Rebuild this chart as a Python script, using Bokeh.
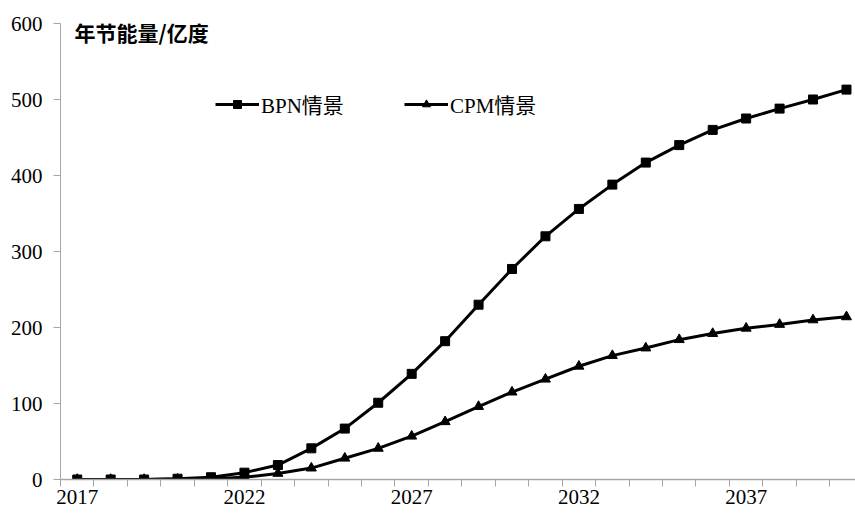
from bokeh.plotting import figure
from bokeh.models import Range1d, FixedTicker, Legend, LegendItem, Label
from bokeh.embed import file_html
from bokeh.resources import INLINE

years = list(range(2017, 2041))
bpn = [0, 0, 0, 1, 3, 9, 19, 41, 67, 101, 139, 182, 230, 277, 320, 356,
       388, 417, 440, 460, 475, 488, 500, 513]
cpm = [0, 0, 0, 0.5, 1, 3, 8, 15, 28, 41, 57, 76, 96, 115, 132, 149,
       163, 173, 184, 192, 199, 204, 210, 214]
x_label_years = [2017, 2022, 2027, 2032, 2037]
y_ticks = [0, 100, 200, 300, 400, 500, 600]
y_title = "年节能量/亿度"
bpn_name = "BPN情景"
cpm_name = "CPM情景"

MIX = "Liberation Serif, Noto Sans CJK SC"
AX = "#a6a6a6"
X0 = 2016.5

p = figure(width=855, height=513, output_backend="svg", toolbar_location=None,
           x_range=Range1d(X0, 2040.27), y_range=Range1d(0, 600),
           min_border_left=60, min_border_right=0, min_border_top=23,
           min_border_bottom=34)
p.outline_line_color = None
p.xgrid.visible = False
p.ygrid.visible = False
p.background_fill_color = "white"
p.border_fill_color = "white"

# x axis
xa = p.xaxis[0]
xa.ticker = FixedTicker(ticks=x_label_years,
                        minor_ticks=[y - 0.5 for y in years] + [years[-1] + 0.5])
xa.major_tick_out = 0
xa.major_tick_in = 0
xa.minor_tick_out = 7
xa.minor_tick_in = 0
xa.axis_line_color = AX
xa.minor_tick_line_color = AX
xa.axis_line_width = 1.5
xa.major_label_text_font = MIX
xa.major_label_text_font_size = "21px"
xa.major_label_text_color = "black"
xa.major_label_standoff = 3

# y axis
ya = p.yaxis[0]
ya.ticker = FixedTicker(ticks=y_ticks)
ya.major_tick_out = 7
ya.major_tick_in = 0
ya.minor_tick_out = 0
ya.minor_tick_in = 0
ya.axis_line_color = AX
ya.major_tick_line_color = AX
ya.major_label_text_font = MIX
ya.major_label_text_font_size = "21px"
ya.major_label_text_color = "black"
ya.major_label_standoff = 11

l1 = p.line(years, bpn, line_color="black", line_width=3)
s1 = p.scatter(years, bpn, marker="square", size=9, fill_color="black",
               line_color="black")
l2 = p.line(years, cpm, line_color="black", line_width=3)
s2 = p.scatter(years, cpm, marker="triangle", size=10, fill_color="black",
               line_color="black")

def make_legend(label, rends, loc):
    lg = Legend(items=[LegendItem(label=label, renderers=rends)],
                location=loc, orientation="horizontal",
                glyph_width=44, glyph_height=20, label_standoff=2,
                label_height=20, padding=0, margin=0, spacing=0,
                border_line_alpha=0, background_fill_alpha=0,
                label_text_font=MIX, label_text_font_size="21px",
                label_text_color="black")
    return lg

p.add_layout(make_legend(bpn_name, [l1, s1], (155, 360)), "center")
p.add_layout(make_legend(cpm_name, [l2, s2], (344, 360)), "center")

p.add_layout(Label(x=2016.92, y=588.5, text=y_title, text_baseline="middle",
                   text_align="left", text_font="Noto Sans CJK SC",
                   text_font_style="bold", text_font_size="21px",
                   text_color="black"))

open("out.html", "w").write(file_html(p, INLINE))
